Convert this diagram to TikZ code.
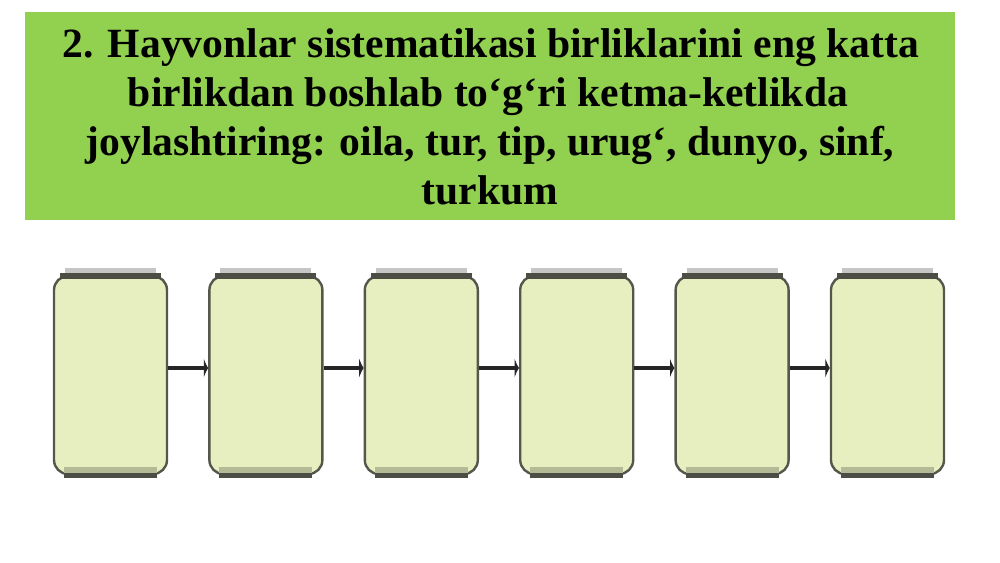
\documentclass[tikz,border=0pt]{standalone}
\usepackage{fontspec}
\setmainfont{Liberation Serif}
\usetikzlibrary{arrows.meta}
\definecolor{banner}{HTML}{92D050}
\definecolor{cellfill}{HTML}{E7EEC0}
\definecolor{celledge}{HTML}{55564C}
\definecolor{bandlight}{HTML}{C6C6C6}
\definecolor{banddark}{HTML}{4C4D44}
\definecolor{bandolive}{HTML}{B4BA95}
\begin{document}
\begin{tikzpicture}[x=0.5pt,y=-0.5pt,
  titleline/.style={anchor=base, font=\bfseries\fontsize{20.8}{25}\selectfont, inner sep=0pt},
  cell/.style={draw=celledge, line width=1.2pt, fill=cellfill, rounded corners=7pt,
    minimum width=56.5pt, minimum height=99pt, inner sep=0pt},
  conn/.style={draw=black!85, line width=1.7pt, -{Latex[length=2.2pt,width=10pt]}}]
\useasboundingbox (0,0) rectangle (1000,562);
\fill[banner] (25,12) rectangle (955,220);
\node[titleline] (t1) at (491,57) {2. Hayvonlar sistematikasi birliklarini eng katta};
\node[titleline] (t2) at (488,106) {birlikdan boshlab to‘g‘ri ketma-ketlikda};
\node[titleline] (t3) at (490,155) {joylashtiring: oila, tur, tip, urug‘, dunyo, sinf,};
\node[titleline] (t4) at (490,204) {turkum};
\foreach \i in {1,...,6} {
  \pgfmathsetmacro\L{54+155.4*(\i-1)}
  \node[cell] (b\i) at (\L+56.5,375) {};
  \fill[bandlight] (\L+11,268) rectangle (\L+102,273);
  \fill[banddark] (\L+6,273) rectangle (\L+107,279);
  \fill[bandolive] (\L+10,467) rectangle (\L+103,473);
  \fill[banddark] (\L+10,473) rectangle (\L+103,478);
}
\draw[conn] ([yshift=3.5pt]b1.east) -- ([yshift=3.5pt]b2.west);
\draw[conn] ([yshift=3.5pt]b2.east) -- ([yshift=3.5pt]b3.west);
\draw[conn] ([yshift=3.5pt]b3.east) -- ([yshift=3.5pt]b4.west);
\draw[conn] ([yshift=3.5pt]b4.east) -- ([yshift=3.5pt]b5.west);
\draw[conn] ([yshift=3.5pt]b5.east) -- ([yshift=3.5pt]b6.west);
\end{tikzpicture}
\end{document}
